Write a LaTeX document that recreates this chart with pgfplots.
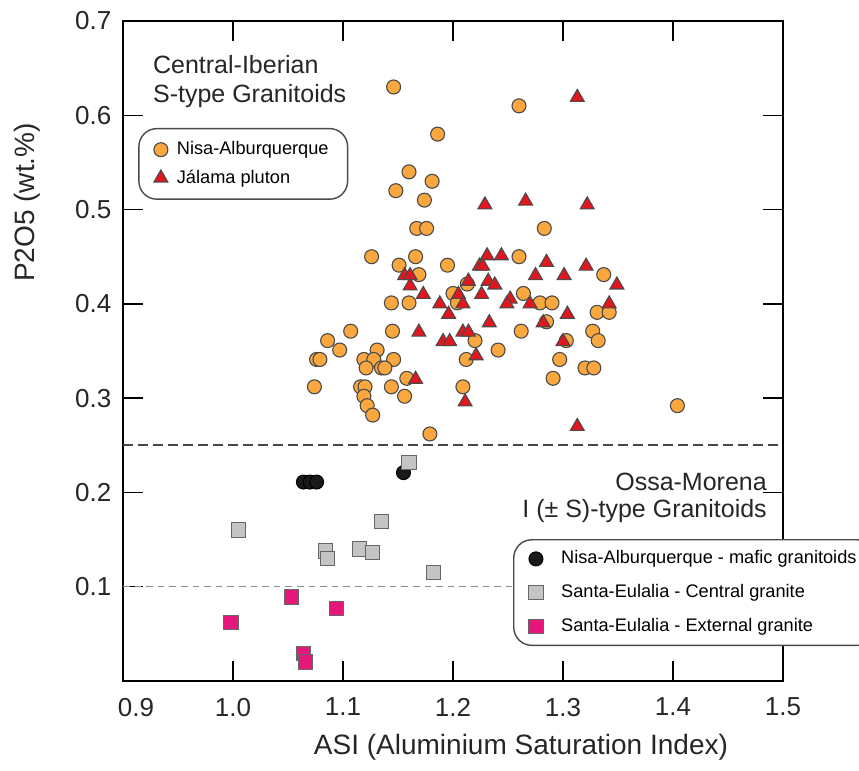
\documentclass[border=0pt]{standalone}
\usepackage{fontspec}
\setmainfont{Liberation Sans}
\usepackage{pgfplots}
\pgfplotsset{compat=1.18}
\definecolor{orng}{HTML}{F9A73E}
\definecolor{redt}{HTML}{E2161E}
\definecolor{mag}{HTML}{E5177B}
\definecolor{gsq}{HTML}{C4C4C4}
\definecolor{edge}{HTML}{4A4A4A}
\begin{document}
\begin{tikzpicture}
\pgfplotsset{
  common/.style={width=330pt,height=330pt,scale only axis,
    xmin=0.9,xmax=1.5,ymin=0,ymax=0.7},
  mylegimg/.style={legend image code/.code={\draw[##1,only marks] plot coordinates {(0pt,0pt)};}},
}
\begin{axis}[common, name=ax,
  axis line style={line width=1.3pt},
  tick style={line width=0.7pt, black},
  major tick length=10pt,
  tick align=inside,
  xtick={0.9,1.0,1.1,1.2,1.3,1.4,1.5},
  xticklabels={{\hspace*{13pt}0.9},1.0,1.1,1.2,1.3,1.4,1.5},
  ytick={0.1,0.2,0.3,0.4,0.5,0.6,0.7},
  yticklabels={0.1,0.2,0.3,0.4,0.5,0.6,0.7},
  ticklabel style={font=\fontsize{13}{15}\selectfont, text=black!85},
  xticklabel style={yshift=-5pt},
  yticklabel style={xshift=-2.3pt},
  xlabel={ASI (Aluminium Saturation Index)},
  ylabel={P2O5 (wt.\%)},
  label style={font=\fontsize{14}{16}\selectfont, text=black!85},
  xlabel style={at={(axis description cs:0.603,-0.112)},anchor=base},
  ylabel style={at={(axis description cs:-0.1455,0.725)},anchor=center},
  mylegimg,
  legend cell align=left,
  legend style={at={(0.023,0.838)},anchor=north west, draw=edge, line width=0.7pt,
    rounded corners=9pt, fill=white, font=\fontsize{9.1}{11}\selectfont,
    inner xsep=7.5pt, inner ysep=4.5pt, row sep=2pt,
    /tikz/every odd column/.append style={column sep=2.5pt}},
]
\addplot[forget plot, draw=black!72, line width=1.1pt, dash pattern=on 5pt off 2.5pt] coordinates {(0.9,0.25) (1.5,0.25)};
\addplot[only marks, mark=*, mark size=3.5pt, mark options={fill=orng, draw=edge, line width=0.55pt, sharp corners}] table {
x y
1.146 0.630
1.186 0.580
1.260 0.610
1.160 0.540
1.181 0.530
1.148 0.520
1.174 0.510
1.167 0.480
1.176 0.480
1.283 0.480
1.126 0.450
1.166 0.450
1.260 0.450
1.151 0.441
1.195 0.441
1.169 0.431
1.337 0.431
1.213 0.421
1.200 0.411
1.264 0.411
1.144 0.401
1.160 0.401
1.204 0.401
1.279 0.401
1.290 0.401
1.331 0.391
1.342 0.391
1.285 0.381
1.107 0.371
1.145 0.371
1.262 0.371
1.327 0.371
1.086 0.361
1.220 0.361
1.303 0.361
1.332 0.361
1.097 0.351
1.131 0.351
1.241 0.351
1.076 0.341
1.079 0.341
1.119 0.341
1.128 0.341
1.146 0.341
1.212 0.341
1.297 0.341
1.121 0.332
1.135 0.332
1.138 0.332
1.320 0.332
1.328 0.332
1.158 0.321
1.291 0.321
1.074 0.312
1.116 0.312
1.120 0.312
1.144 0.312
1.209 0.312
1.119 0.302
1.156 0.302
1.122 0.292
1.127 0.282
1.404 0.292
1.179 0.262
};
\addlegendentry{Nisa-Alburquerque}
\addplot[only marks, mark=triangle*, mark size=4pt, mark options={fill=redt, draw=edge, line width=0.55pt, sharp corners}] table {
x y
1.313 0.619
1.229 0.505
1.266 0.509
1.322 0.505
1.231 0.451
1.244 0.451
1.285 0.444
1.321 0.440
1.224 0.440
1.227 0.440
1.156 0.430
1.161 0.430
1.275 0.430
1.301 0.430
1.161 0.419
1.173 0.410
1.214 0.424
1.232 0.424
1.238 0.420
1.349 0.420
1.205 0.410
1.226 0.410
1.252 0.405
1.188 0.400
1.209 0.400
1.249 0.400
1.270 0.400
1.342 0.400
1.196 0.389
1.304 0.389
1.233 0.380
1.282 0.380
1.169 0.370
1.209 0.370
1.214 0.370
1.191 0.360
1.197 0.360
1.300 0.360
1.221 0.345
1.166 0.320
1.211 0.296
1.313 0.270
};
\addlegendentry{Jálama pluton}
\node[anchor=base west, inner sep=0pt, font=\fontsize{12.5}{15}\selectfont, text=black!85] at (rel axis cs:0.045,0.921) {Central-Iberian};
\node[anchor=base west, inner sep=0pt, font=\fontsize{12.5}{15}\selectfont, text=black!85] at (rel axis cs:0.045,0.876) {S-type Granitoids};
\node[anchor=base east, inner sep=0pt, font=\fontsize{12.5}{15}\selectfont, text=black!85] at (rel axis cs:0.976,0.289) {Ossa-Morena};
\node[anchor=base east, inner sep=0pt, font=\fontsize{12.5}{15}\selectfont, text=black!85] at (rel axis cs:0.976,0.247) {I (± S)-type Granitoids};
\end{axis}
\begin{axis}[common, hide axis,
  mylegimg,
  legend cell align=left,
  legend style={at={(0.591,0.215)},anchor=north west, draw=edge, line width=0.7pt,
    rounded corners=9pt, fill=white, font=\fontsize{9.1}{11}\selectfont,
    inner xsep=7.5pt, inner ysep=3.5pt, row sep=4.75pt,
    /tikz/every odd column/.append style={column sep=7pt}},
]
\addplot[forget plot, draw=black!45, line width=0.5pt, dash pattern=on 3.3pt off 2.5pt] coordinates {(0.9,0.1) (1.5,0.1)};
\addplot[only marks, mark=*, mark size=3.5pt, mark options={fill=black!90, draw=black, line width=0.5pt, sharp corners}] table {
x y
1.064 0.211
1.070 0.211
1.076 0.211
1.155 0.221
};
\addlegendentry{Nisa-Alburquerque - mafic granitoids}
\addplot[only marks, mark=square*, mark size=3.6pt, mark options={fill=gsq, draw=black!60, line width=0.5pt, sharp corners}] table {
x y
1.160 0.232
1.005 0.160
1.135 0.169
1.084 0.138
1.086 0.130
1.115 0.140
1.127 0.136
1.182 0.115
};
\addlegendentry{Santa-Eulalia - Central granite}
\addplot[only marks, mark=square*, mark size=3.6pt, mark options={fill=mag, draw=black!60, line width=0.5pt, sharp corners}] table {
x y
0.998 0.062
1.053 0.089
1.094 0.077
1.064 0.029
1.066 0.020
};
\addlegendentry{Santa-Eulalia - External granite}
\end{axis}
\pgfresetboundingbox
\path ([shift={(-61.5pt,-45pt)}]ax.south west) rectangle ([shift={(38pt,10.5pt)}]ax.north east);
\end{tikzpicture}
\end{document}
